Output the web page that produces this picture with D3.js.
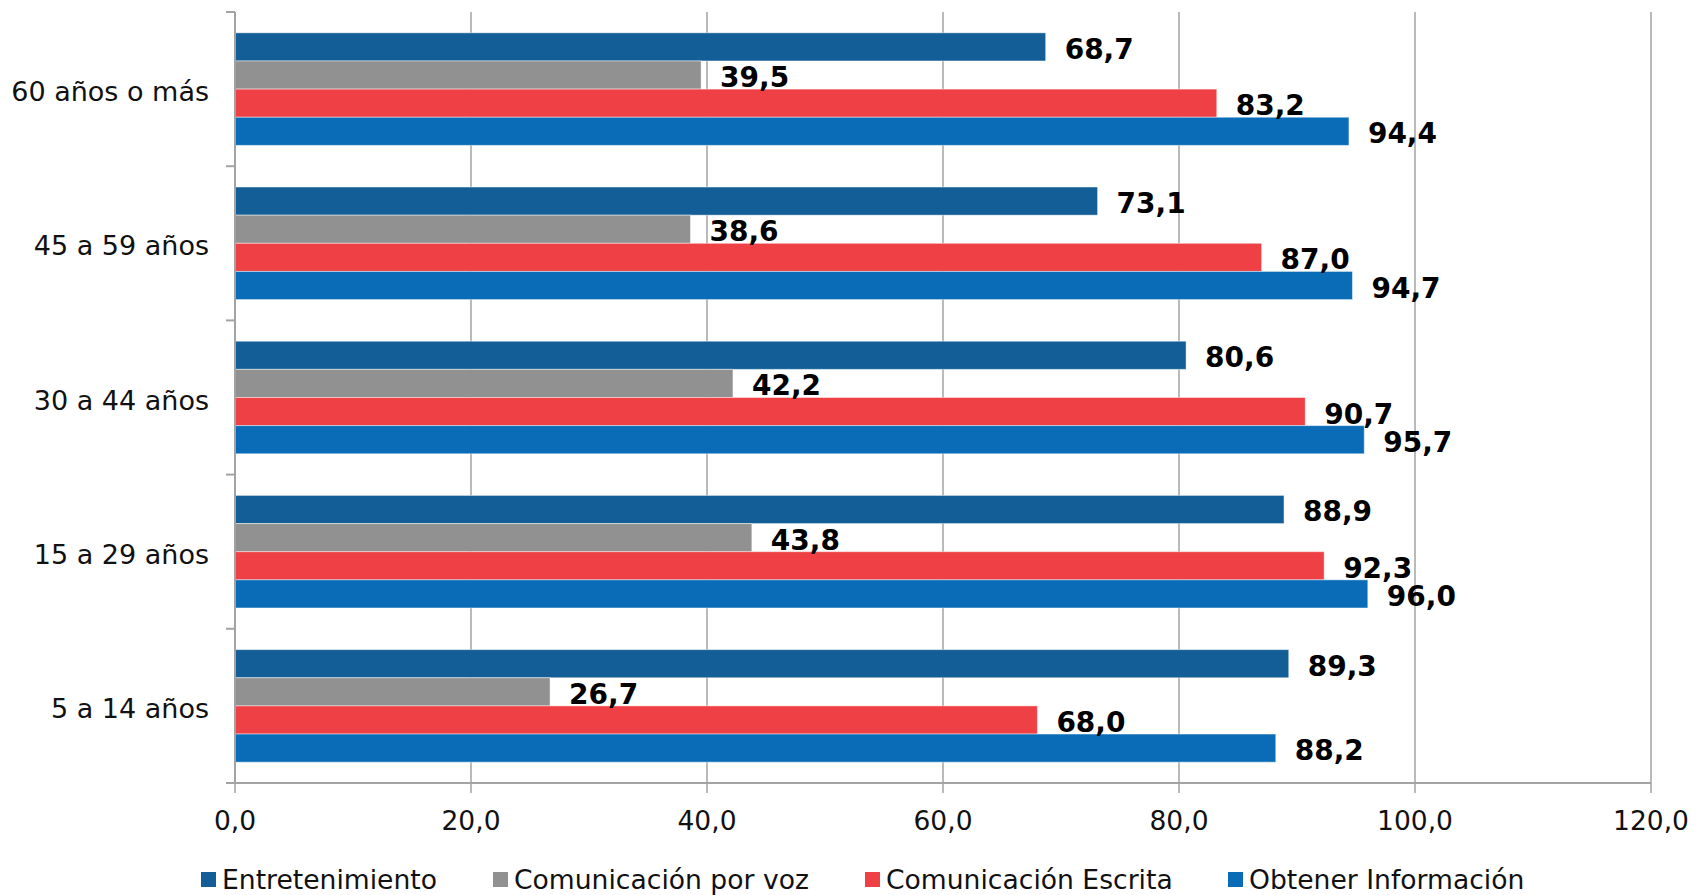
<!DOCTYPE html>
<html>
<head>
<meta charset="utf-8">
<script src="https://cdn.jsdelivr.net/npm/d3@7"></script>
<style>
  body { margin: 0; background: #fff; }
  text { font-family: "DejaVu Sans", Verdana, sans-serif; }
</style>
</head>
<body>
<script>
const categories = ["60 años o más", "45 a 59 años", "30 a 44 años", "15 a 29 años", "5 a 14 años"];
const series = ["Entretenimiento", "Comunicación por voz", "Comunicación Escrita", "Obtener Información"];
const colors = ["#135e96", "#919191", "#ef4045", "#0a6cb7"];

const entretenimiento = [68.7, 73.1, 80.6, 88.9, 89.3];
const porVoz = [39.5, 38.6, 42.2, 43.8, 26.7];
const escrita = [83.2, 87.0, 90.7, 92.3, 68.0];
const informacion = [94.4, 94.7, 95.7, 96.0, 88.2];
const xTicks = [0, 20, 40, 60, 80, 100, 120];

const values = [entretenimiento, porVoz, escrita, informacion];

const w = 1700;
const h = 895;
const fmt = (v) => v.toFixed(1).replace(".", ",");

const svg = d3.select("body")
              .append("svg")
              .attr("width", w)
              .attr("height", h);

const xScale = d3.scaleLinear()
                 .domain([0, 120])
                 .range([235, 1651]);

const yScale = d3.scaleBand()
                 .domain(categories)
                 .range([12, 783]);

const yInner = d3.scaleBand()
                 .domain(series)
                 .range([0, yScale.bandwidth()])
                 .paddingOuter(0.74);

// grid lines + bottom ticks
svg.append("g")
   .selectAll("line")
   .data(xTicks)
   .enter()
   .append("line")
   .attr("x1", (d) => xScale(d))
   .attr("x2", (d) => xScale(d))
   .attr("y1", 12)
   .attr("y2", 793)
   .attr("stroke", "#a3a3a3")
   .attr("stroke-width", 1.5);

svg.append("line")
   .attr("x1", 226).attr("x2", xScale(120))
   .attr("y1", 783).attr("y2", 783)
   .attr("stroke", "#a3a3a3")
   .attr("stroke-width", 2);

// left axis ticks at band edges
const edges = categories.map((c) => yScale(c)).concat([783]);
svg.append("g")
   .selectAll("line")
   .data(edges)
   .enter()
   .append("line")
   .attr("x1", 226)
   .attr("x2", 235)
   .attr("y1", (d) => d)
   .attr("y2", (d) => d)
   .attr("stroke", "#a3a3a3")
   .attr("stroke-width", 2);

const rows = [];
categories.forEach((c, i) => {
  series.forEach((s, j) => {
    rows.push({ cat: c, ser: s, j: j, v: values[j][i] });
  });
});

const bars = svg.append("g");

bars.selectAll("rect")
    .data(rows)
    .enter()
    .append("rect")
    .attr("x", xScale(0))
    .attr("y", (d) => yScale(d.cat) + yInner(d.ser))
    .attr("width", (d) => xScale(d.v) - xScale(0))
    .attr("height", yInner.bandwidth())
    .attr("fill", (d) => colors[d.j])
    .attr("stroke", "rgba(255,255,255,0.45)")
    .attr("stroke-width", 1);

// y axis line on top of bars
svg.append("line")
   .attr("x1", 235).attr("x2", 235)
   .attr("y1", 12).attr("y2", 783)
   .attr("stroke", "#a3a3a3")
   .attr("stroke-width", 2);

bars.selectAll("text")
    .data(rows)
    .enter()
    .append("text")
    .text((d) => fmt(d.v))
    .attr("x", (d) => xScale(d.v) + 19)
    .attr("y", (d) => yScale(d.cat) + yInner(d.ser) + yInner.bandwidth() / 2 + 12)
    .attr("font-size", 28)
    .attr("font-weight", "bold")
    .attr("fill", "#000");

svg.append("g")
   .selectAll("text")
   .data(categories)
   .enter()
   .append("text")
   .text((d) => d)
   .attr("x", 209)
   .attr("y", (d) => yScale(d) + yScale.bandwidth() / 2 + 12)
   .attr("text-anchor", "end")
   .attr("font-size", 27)
   .attr("fill", "#111");

svg.append("g")
   .selectAll("text")
   .data(xTicks)
   .enter()
   .append("text")
   .text((d) => fmt(d))
   .attr("x", (d) => xScale(d))
   .attr("y", 830)
   .attr("text-anchor", "middle")
   .attr("font-size", 26.5)
   .attr("fill", "#111");

// legend
const legendX = [201, 493, 865, 1228];
const legend = svg.append("g")
                  .selectAll("g")
                  .data(series)
                  .enter()
                  .append("g")
                  .attr("transform", (d, i) => "translate(" + legendX[i] + ",0)");

legend.append("rect")
      .attr("x", 0)
      .attr("y", 872)
      .attr("width", 15)
      .attr("height", 15)
      .attr("fill", (d, i) => colors[i]);

legend.append("text")
      .text((d) => d)
      .attr("x", 21)
      .attr("y", 889)
      .attr("font-size", 26.6)
      .attr("fill", "#111");
</script>
</body>
</html>
